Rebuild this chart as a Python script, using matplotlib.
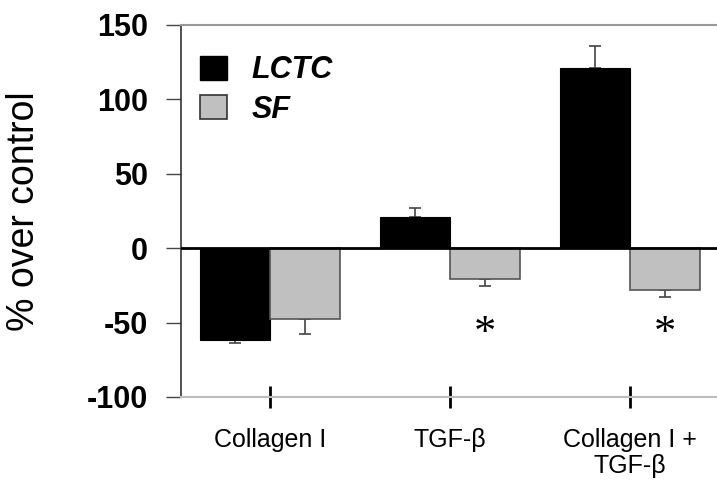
import numpy as np
import matplotlib
matplotlib.use("Agg")
import matplotlib.pyplot as plt
from matplotlib.patches import Patch

plt.rcParams['font.family'] = ['Liberation Sans', 'DejaVu Sans']

# data
groups = ["Collagen I", "TGF-\u03b2", "Collagen I +\nTGF-\u03b2"]
lctc = [-62, 21, 121]
lctc_err = [1.5, 6, 15]
sf = [-47.5, -21, -28]
sf_err = [10, 4.5, 5]
signif = [False, True, True]   # asterisk under SF bar

x = np.arange(len(groups))
w = 0.39

fig = plt.figure(figsize=(7.17, 4.8), dpi=100)
ax = fig.add_axes([0.2524, 0.173, 0.7476, 0.775])

# bars
ax.bar(x - w/2, lctc, w, color="black", edgecolor="black", linewidth=0.8, zorder=2)
ax.bar(x + w/2, sf, w, color="#c0c0c0", edgecolor="#555555", linewidth=1.2, zorder=2)

# one sided error bars (away from zero), drawn behind bars
def one_side(vals, errs):
    lo = [e if v < 0 else 0 for v, e in zip(vals, errs)]
    hi = [e if v >= 0 else 0 for v, e in zip(vals, errs)]
    return [lo, hi]

ax.errorbar(x - w/2, lctc, yerr=one_side(lctc, lctc_err), fmt="none",
            ecolor="#444444", elinewidth=1.2, capsize=4, capthick=1.2, zorder=1)
ax.errorbar(x + w/2, sf, yerr=one_side(sf, sf_err), fmt="none",
            ecolor="#444444", elinewidth=1.2, capsize=4, capthick=1.2, zorder=1)

# significance marks
for xi, s in zip(x, signif):
    if s:
        ax.text(xi + w/2, -58, "*", ha="center", va="center", fontsize=32,
                family="Liberation Serif")

# zero line
ax.axhline(0, color="black", linewidth=2, zorder=4)

ax.set_ylim(-100, 150)
ax.set_xlim(-0.494, 2.483)
ax.set_yticks([-100, -50, 0, 50, 100, 150])
ax.set_yticklabels(["-100", "-50", "0", "50", "100", "150"],
                   fontsize=22, fontweight="bold")
ax.set_xticks(x)
ax.set_xticklabels(groups, fontsize=18, linespacing=1.12)

ax.tick_params(axis="y", direction="out", length=11, width=1, color="#444444", pad=13)
ax.tick_params(axis="x", direction="inout", length=16, width=2, color="black", pad=14)

ax.spines["right"].set_visible(False)
ax.spines["top"].set_color("#999999")
ax.spines["top"].set_linewidth(1.5)
ax.spines["bottom"].set_color("#bbbbbb")
ax.spines["bottom"].set_linewidth(1.5)
ax.spines["left"].set_color("#333333")
ax.spines["left"].set_linewidth(1.2)

ax.set_ylabel("% over control", fontsize=27, labelpad=32)

handles = [Patch(facecolor="black", edgecolor="black"),
           Patch(facecolor="#c0c0c0", edgecolor="#333333", linewidth=1.2)]
leg = ax.legend(handles, ["LCTC", "SF"], loc="upper left",
                bbox_to_anchor=(-0.015, 0.992), frameon=False,
                handlelength=0.88, handleheight=0.82, handletextpad=0.8,
                labelspacing=0.3,
                prop={"size": 22, "weight": "bold", "style": "italic"})

fig.savefig("out.png", dpi=100)
